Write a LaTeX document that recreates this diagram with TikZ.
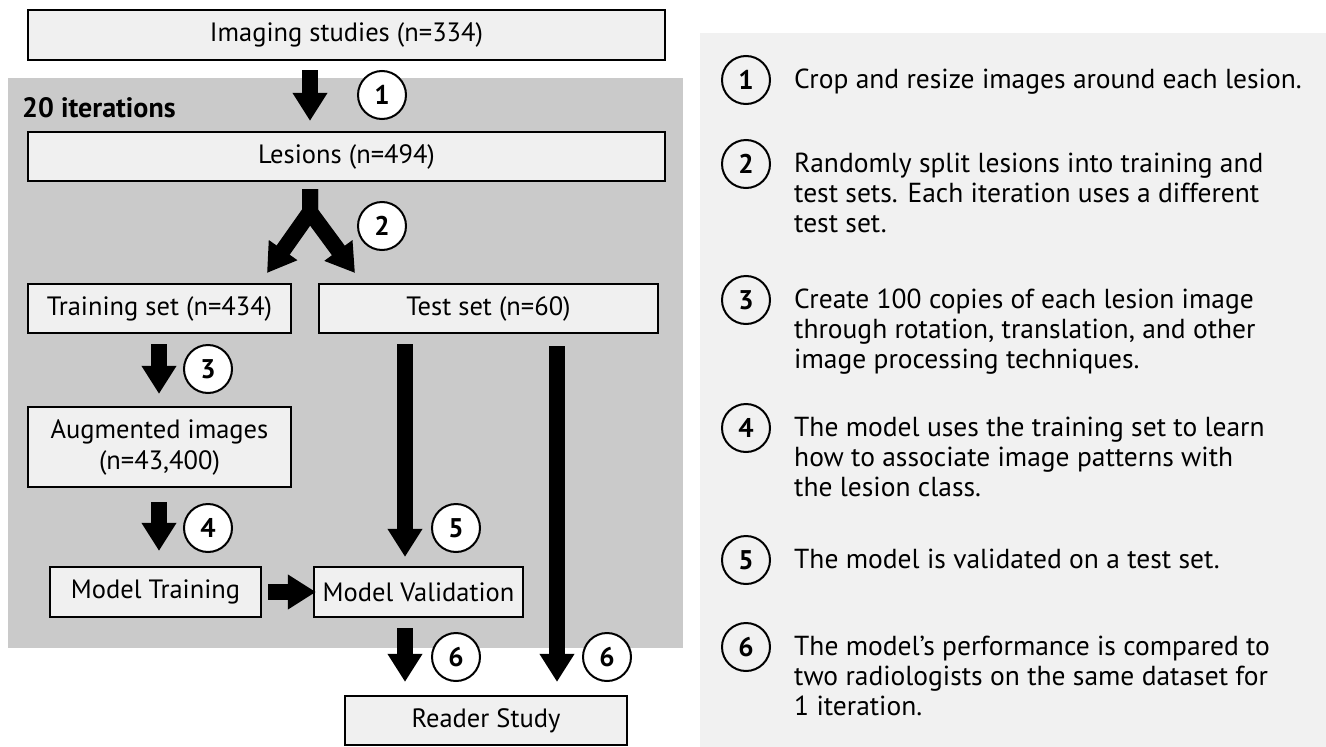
\documentclass[tikz,border=0pt]{standalone}
\usepackage{fontspec}
\setmainfont{PT Sans}
\usetikzlibrary{arrows.meta}
\definecolor{panelgray}{HTML}{CACACA}
\definecolor{panellight}{HTML}{F1F1F1}
\definecolor{boxfill}{HTML}{F0F0F0}
\begin{document}
\begin{tikzpicture}[x=1pt,y=-1pt,
  box/.style={draw=black, line width=2.2pt, fill=boxfill, inner sep=0pt, align=center,
    font=\fontsize{26.5}{31}\selectfont},
  num/.style={circle, draw=black, line width=2pt, fill=white, minimum size=48pt, inner sep=0pt,
    font=\fontsize{27}{27}\selectfont\bfseries},
  rnum/.style={num, fill=panellight},
  bigarrow/.style={line width=16pt, line join=miter, -{Triangle[width=33pt,length=28pt]}},
  desc/.style={anchor=north west, align=left, inner sep=0pt,
    font=\fontsize{27.5}{29.8}\selectfont}]
\useasboundingbox (0,0) rectangle (1326,747);
\fill[white] (0,0) rectangle (1326,747);
% panels
\fill[panelgray] (8,78) rectangle (683,648);
\fill[panellight] (700,33) rectangle (1326,747);
\node[anchor=west, inner sep=0pt, font=\fontsize{28}{32}\selectfont\bfseries] (iter) at (22,108) {20 iterations};
% boxes
\node[box, minimum width=637pt, minimum height=50pt] (img) at (346.5,35) {Imaging studies (n=334)};
\node[box, minimum width=637pt, minimum height=49pt] (les) at (346.5,156.5) {Lesions (n=494)};
\node[box, minimum width=263pt, minimum height=49pt] (train) at (159.5,308.5) {Training set (n=434)};
\node[box, minimum width=339pt, minimum height=49pt] (test) at (488.5,308.5) {Test set (n=60)};
\node[box, minimum width=263pt, minimum height=80pt] (aug) at (159.5,447) {Augmented images\\(n=43,400)};
\node[box, minimum width=211pt, minimum height=50pt] (mtrain) at (155.5,592) {Model Training};
\node[box, minimum width=209pt, minimum height=50pt] (mval) at (418.5,592) {Model Validation};
\node[box, minimum width=282pt, minimum height=49pt] (reader) at (486,720.5) {Reader Study};
% column coordinates
\coordinate (colA) at (310,0);
\coordinate (colB) at (159,0);
\coordinate (colC) at (405,0);
\coordinate (colD) at (557,0);
\coordinate (junc) at (310,212);
\coordinate (tipL) at (267,273);
\coordinate (tipR) at (355,273);
% arrows
\draw[bigarrow, shorten <=9pt, shorten >=10pt] (img.south -| colA) -- (les.north -| colA);
\draw[bigarrow, shorten <=7pt] (les.south -| colA) -- (junc) -- (tipL);
\draw[bigarrow, shorten <=7pt] (les.south -| colA) -- (junc) -- (tipR);
\draw[bigarrow, shorten <=10pt, shorten >=12pt] (train.south -| colB) -- (aug.north -| colB);
\draw[bigarrow, shorten <=14pt, shorten >=15pt] (aug.south -| colB) -- (mtrain.north -| colB);
\draw[bigarrow, shorten <=6pt, shorten >=-3pt] (mtrain.east) -- (mval.west);
\draw[bigarrow, shorten <=10pt, shorten >=9pt] (test.south -| colC) -- (mval.north -| colC);
\draw[bigarrow, shorten <=10pt, shorten >=13pt] (mval.south -| colC) -- (reader.north -| colC);
\draw[bigarrow, shorten <=12pt, shorten >=13pt] (test.south -| colD) -- (reader.north -| colD);
% step numbers
\node[num] (n1) at (382,95) {1};
\node[num] (n2) at (382,226) {2};
\node[num] (n3) at (208,369) {3};
\node[num] (n4) at (208,528) {4};
\node[num] (n5) at (456,528) {5};
\node[num] (n6a) at (456,657) {6};
\node[num] (n6b) at (607,657) {6};
% legend
\node[rnum] (r1) at (746,80) {1};
\node[rnum] (r2) at (746,164) {2};
\node[rnum] (r3) at (746,300) {3};
\node[rnum] (r4) at (746,428) {4};
\node[rnum] (r5) at (746,560) {5};
\node[rnum] (r6) at (746,647) {6};
\node[desc] (t1) at (794,69) {Crop and resize images around each lesion.};
\node[desc] (t2) at (794,153) {Randomly split lesions into training and\\test sets. Each iteration uses a different\\test set.};
\node[desc] (t3) at (794,289) {Create 100 copies of each lesion image\\through rotation, translation, and other\\image processing techniques.};
\node[desc] (t4) at (794,417) {The model uses the training set to learn\\how to associate image patterns with\\the lesion class.};
\node[desc] (t5) at (794,549) {The model is validated on a test set.};
\node[desc] (t6) at (794,636) {The model’s performance is compared to\\two radiologists on the same dataset for\\1 iteration.};
\end{tikzpicture}
\end{document}
